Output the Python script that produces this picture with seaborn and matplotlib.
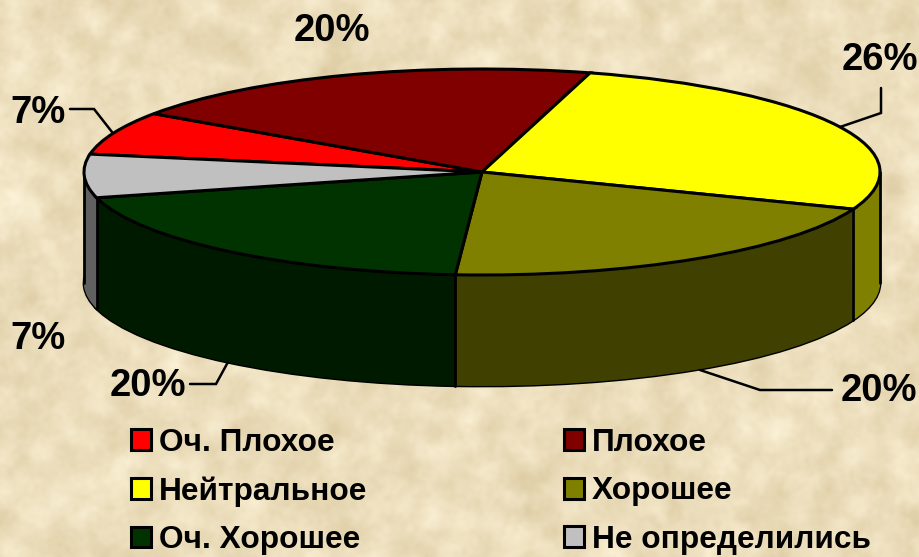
import matplotlib
matplotlib.use("Agg")

import matplotlib.pyplot as plt
import numpy as np
import seaborn as sns

categories = ["Оч. Плохое", "Плохое", "Нейтральное", "Хорошее", "Оч. Хорошее", "Не определились"]
shares = [6.8, 19.8, 26.49, 20.2, 19.91, 6.8]
top_colors = ["#ff0000", "#800000", "#ffff00", "#808000", "#003300", "#c0c0c0"]
wall_colors = ["#800000", "#400000", "#808000", "#404000", "#001a00", "#606060"]

W, H = 919, 557
CX, CY, RX, RY, DEPTH = 482, 172, 398, 103, 111
START = 170

sns.set_theme(style="white")
plt.rcParams["font.family"] = ["Liberation Sans", "DejaVu Sans"]
plt.rcParams["font.weight"] = "bold"


def parchment():
    # мятая бумага: шум со сглаживанием, только фон
    rng = np.random.default_rng(7)
    noise = rng.normal(size=(H, W))
    fy = np.fft.fftfreq(H)[:, None]
    fx = np.fft.fftfreq(W)[None, :]
    f = np.sqrt(fx ** 2 + fy ** 2)
    soft = np.fft.ifft2(np.fft.fft2(noise) * np.exp(-(f * 40) ** 2)).real
    fine = np.fft.ifft2(np.fft.fft2(noise) * np.exp(-(f * 10) ** 2)).real
    tex = soft / soft.std() * 0.7 + fine / fine.std() * 0.3
    base = np.array([236, 222, 188]) / 255
    img = base[None, None, :] + tex[:, :, None] * np.array([0.018, 0.022, 0.03])
    return np.clip(img, 0, 1)


fig = plt.figure(figsize=(W / 100, H / 100), dpi=100)

bg = fig.add_axes([0, 0, 1, 1])
bg.imshow(parchment(), aspect="auto")
bg.axis("off")

# единица по x = RX пикселей, по y = RY пикселей, поэтому круг становится эллипсом
ax = fig.add_axes([0, 0, 1, 1])
ax.patch.set_visible(False)
wall = DEPTH / RY

ax.pie(shares, colors=wall_colors, startangle=START, counterclock=False,
       center=(0, -wall), wedgeprops=dict(edgecolor="black", linewidth=2))
for off in np.linspace(wall, 0, DEPTH):
    ax.pie(shares, colors=wall_colors, startangle=START, counterclock=False,
           center=(0, -off), wedgeprops=dict(linewidth=0))

angles = START - np.cumsum(shares) / sum(shares) * 360
for a in angles:
    x, y = np.cos(np.radians(a)), np.sin(np.radians(a))
    if y < 0 and abs(x) < 1:
        ax.plot([x, x], [y, y - wall], color="black", lw=2, zorder=3)
for side in (-1, 1):
    ax.plot([side, side], [0, -wall], color="black", lw=2, zorder=3)

wedges, _ = ax.pie(shares, colors=top_colors, startangle=START, counterclock=False,
                   wedgeprops=dict(edgecolor="black", linewidth=2.2))
for w in wedges:
    w.set_zorder(4)

ax.set_aspect("auto")
ax.set_xlim(-CX / RX, (W - CX) / RX)
ax.set_ylim(-(H - CY) / RY, CY / RY)
ax.axis("off")

# подписи и выноски в пикселях картинки
over = fig.add_axes([0, 0, 1, 1])
over.patch.set_visible(False)
over.set_xlim(0, W)
over.set_ylim(H, 0)
over.axis("off")

label_pos = [(38, 113), (332, 31), (880, 60), (879, 391), (148, 386), (38, 339)]
for val, (x, y) in zip(shares, label_pos):
    over.text(x, y, f"{round(val)}%", fontsize=27.5, fontweight="bold", color="black",
              ha="center", va="center")

leaders = [
    ([70, 94, 112], [109, 109, 132]),
    ([881, 881, 840], [88, 113, 127]),
    ([832, 760, 700], [390, 390, 370]),
    ([190, 216, 228], [384, 384, 362]),
]
for xs, ys in leaders:
    over.plot(xs, ys, color="black", lw=1.8, solid_joinstyle="miter")

order = [0, 2, 4, 1, 3, 5]
leg = over.legend([wedges[i] for i in order], [categories[i] for i in order],
                  ncol=2, loc="upper left", bbox_to_anchor=(131 / W, 1 - 428 / H),
                  frameon=False, fontsize=22.8, handlelength=0.63, handleheight=0.63,
                  handletextpad=0.26, labelspacing=0.58, columnspacing=6.2,
                  borderpad=0, borderaxespad=0)
for t in leg.get_texts():
    t.set_fontweight("bold")
    t.set_color("black")

fig.savefig("out.png", dpi=100)
